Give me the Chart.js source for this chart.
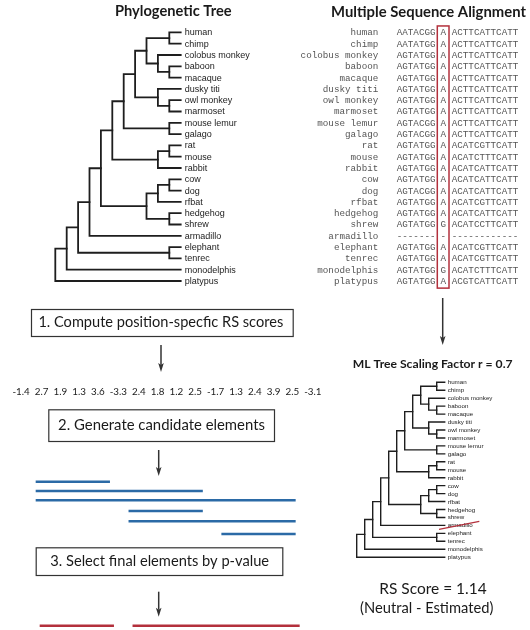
<!DOCTYPE html>
<html><head><meta charset="utf-8">
<script src="https://cdn.jsdelivr.net/npm/chart.js@4/dist/chart.umd.min.js"></script>
<style>html,body{margin:0;padding:0;background:#fff}canvas{display:block}</style>
</head><body>
<canvas id="c" width="530" height="630"></canvas>
<script>
// ---------------- DATA ----------------
const species = ["human","chimp","colobus monkey","baboon","macaque","dusky titi","owl monkey","marmoset","mouse lemur","galago","rat","mouse","rabbit","cow","dog","rfbat","hedgehog","shrew","armadillo","elephant","tenrec","monodelphis","platypus"];
// [node depth level, childA, childB]; numbers are leaf indices into species
const treeTopology = [11,[10,[9,[8,[7,[6,[5,[4,[3,[1,0,1],[2,2,[1,3,4]]],[2,5,[1,6,7]]],[1,8,9]],[2,[1,10,11],12]],[3,[2,[1,13,14],15],[1,16,17]]],18],[1,19,20]],21],22];
const seqLeft  = ["AATACGG","AATATGG","AGTATGG","AGTATGG","AGTATGG","AGTATGG","AGTATGG","AGTATGG","AGTACGG","AGTACGG","AGTATGG","AGTATGG","AGTATGG","AGTATGG","AGTACGG","AGTATGG","AGTATGG","AGTATGG","-------","AGTATGG","AGTATGG","AGTATGG","AGTATGG"];
const seqSite  = ["A","A","A","A","A","A","A","A","A","A","A","A","A","A","A","A","A","G","-","A","A","G","A"];
const seqRight = ["ACTTCATTCATT","ACTTCATTCATT","ACTTCATTCATT","ACTTCATTCATT","ACTTCATTCATT","ACTTCATTCATT","ACTTCATTCATT","ACTTCATTCATT","ACTTCATTCATT","ACTTCATTCATT","ACATCGTTCATT","ACATCTTTCATT","ACATCATTCATT","ACATCATTCATT","ACATCATTCATT","ACATCGTTCATT","ACATCATTCATT","ACATCCTTCATT","------------","ACATCGTTCATT","ACATCGTTCATT","ACATCTTTCATT","ACGTCATTCATT"];
const rsScores = [-1.4,2.7,1.9,1.3,3.6,-3.3,2.4,1.8,1.2,2.5,-1.7,1.3,2.4,3.9,2.5,-3.1];
const candidateStart = [1,1,1,6,6,11];
const candidateEnd   = [4,9,14,9,14,14];
const finalStart = [1,6];
const finalEnd   = [4,14];
const droppedSpecies = ["armadillo"];
const scalingFactor = 0.7;
const siteRsScore = 1.14;
const steps = ["1. Compute position-specfic RS scores","2. Generate candidate elements","3. Select final elements by p-value"];

// ---------------- LAYOUT ----------------
const W = 530, H = 630;
const big = {tipX:180.7, step:11.4, top:32.4, row:11.3};
const sm  = {tipX:444.7, step:8.0, top:382.3, row:7.95};
const pos = {a:26.4, k:18.57, finShift:4};
const candRowY = [481.7,491,500.3,511,521.3,534];
const finRowY = 625.7;
const SANS = "Lato, 'Open Sans', sans-serif";

function treeSegs(node, out){
  if (typeof node === 'number') return {lv:0, r:node};
  const A = treeSegs(node[1], out), B = treeSegs(node[2], out);
  out.push([{x:A.lv,y:A.r},{x:node[0],y:A.r},{x:node[0],y:B.r},{x:B.lv,y:B.r}]);
  return {lv:node[0], r:(A.r+B.r)/2};
}
const segs = []; treeSegs(treeTopology, segs);
const datasets = [];
segs.forEach(s => datasets.push({data:s, xAxisID:'xT', yAxisID:'yR', showLine:true, borderColor:'#1e1e1e', borderWidth:1.8, pointRadius:0, borderCapStyle:'square', borderJoinStyle:'miter', fill:false}));
segs.forEach(s => datasets.push({data:s, xAxisID:'xS', yAxisID:'yS', showLine:true, borderColor:'#1e1e1e', borderWidth:1.4, pointRadius:0, borderCapStyle:'square', borderJoinStyle:'miter', fill:false}));
candidateStart.forEach((s,i) => datasets.push({data:[{x:s-0.5,y:candRowY[i]},{x:candidateEnd[i]+0.5,y:candRowY[i]}], xAxisID:'xP', yAxisID:'yP', showLine:true, borderColor:'#2b6aa6', borderWidth:2.6, pointRadius:0, borderCapStyle:'butt'}));
finalStart.forEach((s,i) => datasets.push({data:[{x:s-0.5,y:finRowY},{x:finalEnd[i]+0.5,y:finRowY}], xAxisID:'xF', yAxisID:'yP', showLine:true, borderColor:'#b3303c', borderWidth:2.6, pointRadius:0, borderCapStyle:'butt'}));

function lin(min,max,rev){return {type:'linear',display:false,min,max,reverse:!!rev,grid:{display:false},ticks:{display:false}};}
const scales = {
  xT: lin(big.tipX/big.step - W/big.step, big.tipX/big.step, true),
  yR: lin(-big.top/big.row, -big.top/big.row + H/big.row, true),
  xS: lin(sm.tipX/sm.step - W/sm.step, sm.tipX/sm.step, true),
  yS: lin(-sm.top/sm.row, -sm.top/sm.row + H/sm.row, true),
  xP: lin(-pos.a/pos.k, -pos.a/pos.k + W/pos.k),
  xF: lin(-(pos.a+pos.finShift)/pos.k, -(pos.a+pos.finShift)/pos.k + W/pos.k),
  yP: lin(0, H, true)
};

function fitText(ctx, text, cx, cy, targetW, weight, color){
  ctx.font = weight+" 20px "+SANS;
  const s = 20*targetW/ctx.measureText(text).width;
  ctx.font = weight+" "+s.toFixed(2)+"px "+SANS;
  ctx.fillStyle = color||'#1a1a1a';
  ctx.textAlign='center'; ctx.textBaseline='middle';
  ctx.fillText(text, cx, cy);
}
function arrow(ctx, x, y1, y2){
  ctx.save(); ctx.strokeStyle='#333'; ctx.fillStyle='#333'; ctx.lineWidth=1.5;
  ctx.beginPath(); ctx.moveTo(x,y1); ctx.lineTo(x,y2-7); ctx.stroke();
  ctx.beginPath(); ctx.moveTo(x,y2); ctx.lineTo(x-2.8,y2-9); ctx.lineTo(x,y2-7); ctx.lineTo(x+2.8,y2-9); ctx.closePath(); ctx.fill();
  ctx.restore();
}
function box(ctx, x1,y1,x2,y2){
  ctx.save(); ctx.strokeStyle='#333'; ctx.lineWidth=1.2; ctx.strokeRect(x1+0.5,y1+0.5,x2-x1,y2-y1); ctx.restore();
}

const deco = {
  id:'deco',
  afterDatasetsDraw(chart){
    const ctx = chart.ctx, sc = chart.scales;
    ctx.save();
    // titles
    fitText(ctx, "Phylogenetic Tree", 173.3, 11, 116.7, 'bold');
    fitText(ctx, "Multiple Sequence Alignment", 428.5, 12, 195, 'bold');
    fitText(ctx, "ML Tree Scaling Factor r = "+scalingFactor, 432.7, 364.3, 160, 'bold');
    // big tree leaf labels
    ctx.textAlign='left'; ctx.textBaseline='middle'; ctx.fillStyle='#222';
    ctx.font = "9px 'Liberation Sans', Arial, sans-serif";
    const lx = sc.xT.getPixelForValue(0)+4;
    species.forEach((n,i)=>ctx.fillText(n, lx, sc.yR.getPixelForValue(i)+0.5));
    // small tree leaf labels
    ctx.font = "6.2px 'Liberation Sans', Arial, sans-serif";
    const sx = sc.xS.getPixelForValue(0)+3;
    species.forEach((n,i)=>{
      const y = sc.yS.getPixelForValue(i);
      ctx.fillStyle='#222'; ctx.textAlign='left';
      ctx.fillText(n, sx, y+0.3);
      if (droppedSpecies.includes(n)){
        ctx.save(); ctx.strokeStyle='#b3303c'; ctx.lineWidth=1.2;
        ctx.beginPath(); ctx.moveTo(sx-8.7,y+4); ctx.lineTo(sx+31.6,y-4); ctx.stroke(); ctx.restore();
      }
    });
    // alignment
    ctx.font = "9.25px 'Liberation Mono', 'Courier New', monospace";
    ctx.fillStyle='#555';
    species.forEach((n,i)=>{
      const y = sc.yR.getPixelForValue(i)+0.5;
      ctx.textAlign='right'; ctx.fillText(n, 378.3, y);
      ctx.textAlign='left'; ctx.fillText(seqLeft[i], 396.7, y);
      ctx.textAlign='center'; ctx.fillText(seqSite[i], 443.3, y);
      ctx.textAlign='left'; ctx.fillText(seqRight[i], 451.7, y);
    });
    // red site box
    ctx.strokeStyle='#b3303c'; ctx.lineWidth=1.5;
    const bt = sc.yR.getPixelForValue(-0.57), bb = sc.yR.getPixelForValue(species.length-1+0.63);
    ctx.strokeRect(437.3, bt, 11.7, bb-bt);
    // arrows
    arrow(ctx, 442.7, 298, 345);
    arrow(ctx, 161, 345, 372);
    arrow(ctx, 158.7, 450, 476);
    arrow(ctx, 158.7, 591.7, 616.7);
    // boxes
    box(ctx, 31, 309, 292.7, 336);
    fitText(ctx, steps[0], 160.8, 322.5, 245, 'normal');
    box(ctx, 48.3, 409.3, 274, 441);
    fitText(ctx, steps[1], 161.5, 425, 207, 'normal');
    box(ctx, 35.7, 547.3, 282.3, 575);
    fitText(ctx, steps[2], 159.7, 561, 219, 'normal');
    // scores row
    fitText(ctx, rsScores.map(v=>v.toFixed(1)).join("  "), 167, 391.7, 309.4, 'normal');
    // RS result
    fitText(ctx, "RS Score = "+siteRsScore.toFixed(2), 433, 589.3, 107.4, 'normal');
    fitText(ctx, "(Neutral - Estimated)", 426.7, 608.3, 133.3, 'normal');
    ctx.restore();
  }
};

new Chart(document.getElementById('c'), {
  type:'scatter',
  data:{datasets},
  options:{
    responsive:false, animation:false, events:[],
    layout:{padding:0},
    plugins:{legend:{display:false}, tooltip:{enabled:false}},
    scales
  },
  plugins:[deco]
});
</script>
</body></html>
